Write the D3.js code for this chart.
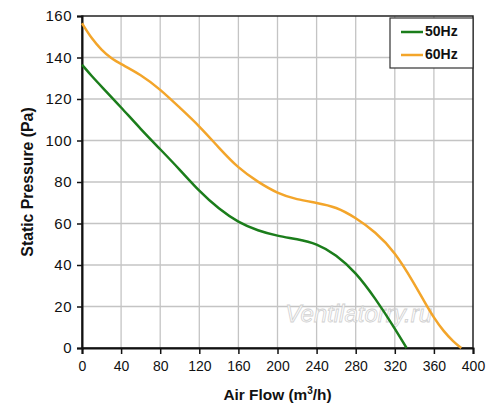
<!DOCTYPE html>
<html>
<head>
<meta charset="utf-8">
<script src="https://cdn.jsdelivr.net/npm/d3@7"></script>
<style>
  body { margin: 0; background: #fff; }
  svg { display: block; font-family: "Liberation Sans", Arial, sans-serif; }
</style>
</head>
<body>
<div id="chart"></div>
<script>
// air flow (m3/h) and static pressure (Pa)
const flow50 = [0, 10, 20, 40, 60, 80, 100, 120, 140, 160, 180, 200, 220, 240, 260, 280, 300, 320, 332];
const pres50 = [136.5, 131, 126, 116, 105.5, 95.8, 86, 75.5, 67, 60.5, 56.5, 54, 52.5, 50.4, 45, 36.5, 24, 9.5, 0];

const flow60 = [0, 10, 20, 30, 40, 60, 80, 100, 120, 140, 160, 180, 200, 220, 240, 260, 280, 300, 320, 340, 350, 360, 370, 380, 388];
const pres60 = [156.5, 149, 143.6, 139.5, 136.8, 131.8, 124.7, 115.8, 107, 96.5, 86.6, 80, 74.5, 71.5, 70, 68, 62.8, 56, 46.4, 31, 22.5, 14.5, 8, 3, 0];

const seriesNames = ["50Hz", "60Hz"];
const seriesColors = ["#1b7d1b", "#f3a52a"];
const xTicks = [0, 40, 80, 120, 160, 200, 240, 280, 320, 360, 400];
const yTicks = [0, 20, 40, 60, 80, 100, 120, 140, 160];

const width = 500, height = 411;
const margin = { top: 16, right: 27, bottom: 63, left: 82 };
const plotW = width - margin.left - margin.right;
const plotH = height - margin.top - margin.bottom;

const svg = d3.select("#chart")
    .append("svg")
    .attr("width", width)
    .attr("height", height);

const g = svg.append("g")
    .attr("transform", `translate(${margin.left},${margin.top})`);

const x = d3.scaleLinear().domain([0, 400]).range([0, plotW]);
const y = d3.scaleLinear().domain([0, 160]).range([plotH, 0]);

// grid
g.append("g")
    .selectAll("line")
    .data(xTicks.slice(1, -1))
    .enter()
    .append("line")
    .attr("x1", d => x(d)).attr("x2", d => x(d))
    .attr("y1", 0).attr("y2", plotH)
    .attr("stroke", "#c4c4c4")
    .attr("stroke-width", 1.3);

g.append("g")
    .selectAll("line")
    .data(yTicks.slice(1, -1))
    .enter()
    .append("line")
    .attr("y1", d => y(d)).attr("y2", d => y(d))
    .attr("x1", 0).attr("x2", plotW)
    .attr("stroke", "#c4c4c4")
    .attr("stroke-width", 1.3);

// frame
g.append("rect")
    .attr("width", plotW)
    .attr("height", plotH)
    .attr("fill", "none")
    .attr("stroke", "#222")
    .attr("stroke-width", 1.5);

// watermark
g.append("text")
    .attr("x", x(283))
    .attr("y", y(12.5))
    .attr("text-anchor", "middle")
    .style("font-size", "24px")
    .style("font-style", "italic")
    .style("fill", "#fff")
    .style("stroke", "#cccccc")
    .style("stroke-width", 0.8)
    .style("opacity", 0.9)
    .text("Ventilatorry.ru");

// axes
const xAxis = d3.axisBottom(x)
    .tickValues(xTicks)
    .tickSize(6)
    .tickPadding(7)
    .tickFormat(d3.format("d"));

const yAxis = d3.axisLeft(y)
    .tickValues(yTicks)
    .tickSize(5)
    .tickPadding(5)
    .tickFormat(d3.format("d"));

const gx = g.append("g")
    .attr("transform", `translate(0,${plotH})`)
    .call(xAxis);

const gy = g.append("g")
    .call(yAxis);

[gx, gy].forEach(a => {
    a.select(".domain").attr("stroke", "#111").attr("stroke-width", 2);
    a.selectAll(".tick line").attr("stroke", "#111").attr("stroke-width", 1.5);
    a.selectAll(".tick text")
        .style("font-size", "14px")
        .style("fill", "#111")
        .style("font-family", "'Liberation Sans', Arial, sans-serif");
});
gy.selectAll(".tick text").style("font-size", "15px").style("letter-spacing", "0.5px");

// curves
const line = d3.line()
    .x(d => x(d[0]))
    .y(d => y(d[1]))
    .curve(d3.curveBasis);

const series = [
    d3.zip(flow50, pres50),
    d3.zip(flow60, pres60)
];

g.selectAll(".curve")
    .data(series)
    .enter()
    .append("path")
    .attr("class", "curve")
    .attr("d", line)
    .attr("fill", "none")
    .attr("stroke", (d, i) => seriesColors[i])
    .attr("stroke-width", 2.5);

// legend
const legend = g.append("g")
    .attr("transform", `translate(${plotW - 83},2)`);

legend.append("rect")
    .attr("width", 83)
    .attr("height", 50)
    .attr("fill", "#fff")
    .attr("stroke", "#333")
    .attr("stroke-width", 1.2);

const item = legend.selectAll(".item")
    .data(seriesNames)
    .enter()
    .append("g")
    .attr("transform", (d, i) => `translate(0,${14 + i * 23})`);

item.append("line")
    .attr("x1", 11).attr("x2", 33)
    .attr("y1", 0).attr("y2", 0)
    .attr("stroke", (d, i) => seriesColors[i])
    .attr("stroke-width", 2.5);

item.append("text")
    .attr("x", 35)
    .attr("y", 0)
    .attr("dominant-baseline", "middle")
    .style("font-size", "14px")
    .style("font-weight", "bold")
    .style("fill", "#111")
    .text(d => d);

// axis titles
const xTitle = svg.append("text")
    .attr("x", margin.left + plotW / 2)
    .attr("y", 400)
    .attr("text-anchor", "middle")
    .style("font-size", "15.4px")
    .style("font-weight", "bold")
    .style("fill", "#111");
xTitle.append("tspan").text("Air Flow (m");
xTitle.append("tspan").attr("dy", -6).style("font-size", "10px").text("3");
xTitle.append("tspan").attr("dy", 6).text("/h)");

svg.append("text")
    .attr("transform", `translate(33,${margin.top + plotH / 2}) rotate(-90)`)
    .attr("text-anchor", "middle")
    .style("font-size", "15.8px")
    .style("font-weight", "bold")
    .style("fill", "#111")
    .text("Static Pressure (Pa)");
</script>
</body>
</html>
